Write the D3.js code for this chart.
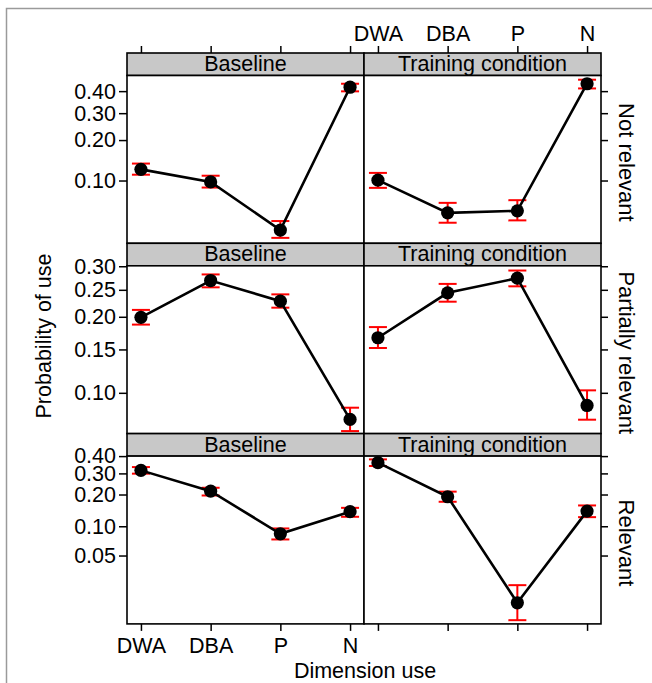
<!DOCTYPE html>
<html>
<head>
<meta charset="utf-8">
<script src="https://cdn.jsdelivr.net/npm/d3@7"></script>
<style>
  html, body { margin: 0; padding: 0; background: #fff; }
  svg { display: block; font-family: "Liberation Sans", Arial, Helvetica, sans-serif; }
</style>
</head>
<body>
<svg id="chart" width="652" height="683"></svg>
<script>
// ---------------- data ----------------
const categories = ["DWA", "DBA", "P", "N"];
const conditions = ["Baseline", "Training condition"];
const relevanceRows = ["Not relevant", "Partially relevant", "Relevant"];

// Not relevant
const notRelBaseEst = [0.122, 0.0975, 0.0395, 0.419];
const notRelBaseLo  = [0.111, 0.088, 0.034, 0.399];
const notRelBaseHi  = [0.135, 0.109, 0.047, 0.436];
const notRelTrainEst = [0.1006, 0.0549, 0.0571, 0.436];
const notRelTrainLo  = [0.0875, 0.0455, 0.0476, 0.413];
const notRelTrainHi  = [0.1146, 0.0663, 0.0697, 0.456];

// Partially relevant
const partRelBaseEst = [0.199, 0.269, 0.228, 0.0772];
const partRelBaseLo  = [0.187, 0.255, 0.216, 0.0688];
const partRelBaseHi  = [0.212, 0.282, 0.241, 0.0866];
const partRelTrainEst = [0.1666, 0.244, 0.274, 0.0885];
const partRelTrainLo  = [0.152, 0.227, 0.257, 0.0770];
const partRelTrainHi  = [0.183, 0.262, 0.2905, 0.1024];

// Relevant
const relBaseEst = [0.3165, 0.214, 0.084, 0.1388];
const relBaseLo  = [0.2986, 0.196, 0.0735, 0.124];
const relBaseHi  = [0.335, 0.229, 0.0951, 0.151];
const relTrainEst = [0.3606, 0.191, 0.0155, 0.1406];
const relTrainLo  = [0.341, 0.172, 0.0100, 0.123];
const relTrainHi  = [0.380, 0.212, 0.0241, 0.159];

// y-axis limits (probability, logit scale) and tick labels per row
const notRelLimits  = [0.0306, 0.477];
const partRelLimits = [0.0671, 0.301];
const relLimits     = [0.0091, 0.40];
const notRelTicks  = ["0.10", "0.20", "0.30", "0.40"];
const partRelTicks = ["0.10", "0.15", "0.20", "0.25", "0.30"];
const relTicks     = ["0.05", "0.10", "0.20", "0.30", "0.40"];

// ---------------- assemble ----------------
const rows = [
  { label: relevanceRows[0], limits: notRelLimits, ticks: notRelTicks,
    series: [
      { est: notRelBaseEst, lo: notRelBaseLo, hi: notRelBaseHi },
      { est: notRelTrainEst, lo: notRelTrainLo, hi: notRelTrainHi } ] },
  { label: relevanceRows[1], limits: partRelLimits, ticks: partRelTicks,
    series: [
      { est: partRelBaseEst, lo: partRelBaseLo, hi: partRelBaseHi },
      { est: partRelTrainEst, lo: partRelTrainLo, hi: partRelTrainHi } ] },
  { label: relevanceRows[2], limits: relLimits, ticks: relTicks,
    series: [
      { est: relBaseEst, lo: relBaseLo, hi: relBaseHi },
      { est: relTrainEst, lo: relTrainLo, hi: relTrainHi } ] }
];

const logit = p => Math.log(p / (1 - p));

// ---------------- layout ----------------
const svg = d3.select("#chart");
const left = 127, colW = 237;
const top0 = 53, stripH = 22.5, panelH = 167.8;
const rowH = stripH + panelH;
const font = 21.5;
const ink = "#000";

// outer frame
svg.append("rect").attr("x", 6.5).attr("y", 8.5).attr("width", 700).attr("height", 700)
  .attr("fill", "none").attr("stroke", "#9a9a9a").attr("stroke-width", 1.5);

rows.forEach((row, r) => {
  const stripY = top0 + r * rowH;
  const py0 = stripY + stripH, py1 = py0 + panelH;
  const yLin = d3.scaleLinear().domain(row.limits.map(logit)).range([py1, py0]);
  const tickVals = row.ticks.map(t => logit(+t));

  conditions.forEach((cond, c) => {
    const x0 = left + c * colW, x1 = x0 + colW;
    const x = d3.scalePoint().domain(categories).range([x0, x1]).padding(0.2);
    const g = svg.append("g");

    // strip
    g.append("rect").attr("x", x0).attr("y", stripY).attr("width", colW).attr("height", stripH)
      .attr("fill", "#c8c8c8").attr("stroke", "#000").attr("stroke-width", 1.6);
    g.append("text").attr("x", (x0 + x1) / 2).attr("y", stripY + stripH - 4.5)
      .attr("text-anchor", "middle").attr("font-size", 21.5).attr("fill", ink).text(cond);

    // panel
    g.append("rect").attr("x", x0).attr("y", py0).attr("width", colW).attr("height", panelH)
      .attr("fill", "#fff").attr("stroke", "#000").attr("stroke-width", 1.6);

    const s = row.series[c];
    const pts = categories.map((k, i) => ({ k, est: s.est[i], lo: s.lo[i], hi: s.hi[i] }));

    // error bars
    const eb = g.append("g").attr("stroke", "#ff0000").attr("stroke-width", 2);
    pts.forEach(d => {
      const cx = x(d.k);
      eb.append("line").attr("x1", cx).attr("x2", cx).attr("y1", yLin(logit(d.lo))).attr("y2", yLin(logit(d.hi)));
      eb.append("line").attr("x1", cx - 9).attr("x2", cx + 9).attr("y1", yLin(logit(d.lo))).attr("y2", yLin(logit(d.lo)));
      eb.append("line").attr("x1", cx - 9).attr("x2", cx + 9).attr("y1", yLin(logit(d.hi))).attr("y2", yLin(logit(d.hi)));
    });

    // line
    const line = d3.line().x(d => x(d.k)).y(d => yLin(logit(d.est)));
    g.append("path").datum(pts).attr("d", line).attr("fill", "none")
      .attr("stroke", "#000").attr("stroke-width", 2.6);

    // points
    g.selectAll("circle").data(pts).join("circle")
      .attr("cx", d => x(d.k)).attr("cy", d => yLin(logit(d.est))).attr("r", 6.6).attr("fill", "#000");

    // x axes: top of first row, bottom of last row (alternating labels)
    if (r === 0) {
      const ax = d3.axisTop(x).tickSize(7).tickPadding(5);
      if (c === 0) ax.tickFormat(() => "");
      const ga = svg.append("g").attr("transform", `translate(0,${stripY})`).call(ax);
      styleAxis(ga);
    }
    if (r === rows.length - 1) {
      const ax = d3.axisBottom(x).tickSize(7).tickPadding(7);
      if (c === 1) ax.tickFormat(() => "");
      const ga = svg.append("g").attr("transform", `translate(0,${py1})`).call(ax);
      styleAxis(ga);
    }
    // y axes
    if (c === 0) {
      const ay = d3.axisLeft(yLin).tickValues(tickVals).tickFormat((d, i) => row.ticks[i]).tickSize(8).tickPadding(3);
      const ga = svg.append("g").attr("transform", `translate(${x0},0)`).call(ay);
      styleAxis(ga);
    } else {
      const ay = d3.axisRight(yLin).tickValues(tickVals).tickFormat(() => "").tickSize(7);
      const ga = svg.append("g").attr("transform", `translate(${x1},0)`).call(ay);
      styleAxis(ga);
      // row label on right
      svg.append("text").attr("transform", `translate(619,${(py0 + py1) / 2 + 3}) rotate(90)`)
        .attr("text-anchor", "middle").attr("font-size", 22).attr("fill", ink).text(row.label);
    }
  });
});

function styleAxis(ga) {
  ga.select(".domain").remove();
  ga.selectAll(".tick line").attr("stroke", "#000").attr("stroke-width", 1.5);
  ga.selectAll(".tick text").attr("font-size", font).attr("fill", ink)
    .attr("font-family", "'Liberation Sans', Arial, Helvetica, sans-serif");
}

// axis titles
svg.append("text").attr("x", 365).attr("y", 678).attr("text-anchor", "middle")
  .attr("font-size", 21.5).attr("fill", ink).text("Dimension use");
svg.append("text").attr("transform", "translate(51,336) rotate(-90)").attr("text-anchor", "middle")
  .attr("font-size", 21.5).attr("fill", ink).text("Probability of use");
</script>
</body>
</html>
